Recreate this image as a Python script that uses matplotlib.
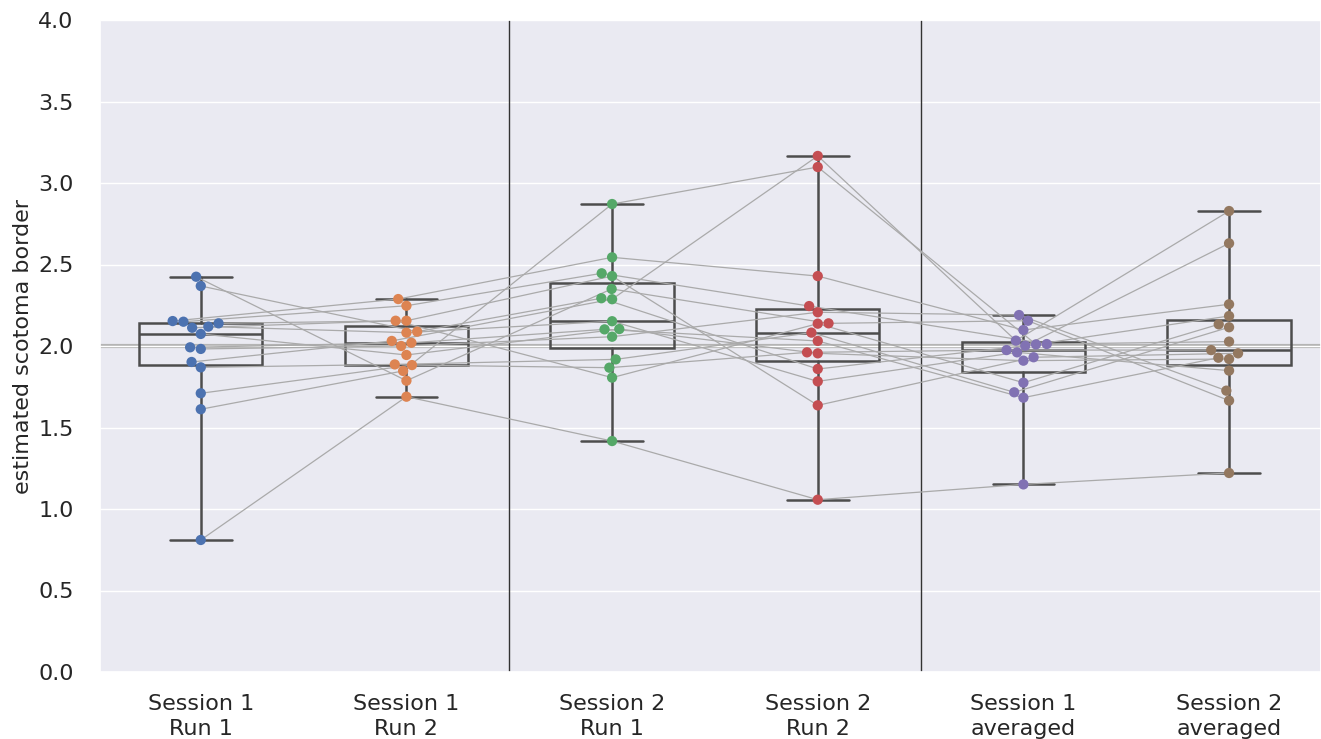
import matplotlib
matplotlib.use("Agg")
import matplotlib.pyplot as plt
import pandas as pd
import seaborn as sns

# condition labels (x axis)
conditions = ["Session 1\nRun 1", "Session 1\nRun 2", "Session 2\nRun 1",
              "Session 2\nRun 2", "Session 1\naveraged", "Session 2\naveraged"]

# estimated scotoma border per subject, same subject order in every list
s1_run1 = [2.425, 2.368, 2.153, 2.149, 2.139, 2.119, 2.112, 2.074,
           1.992, 1.982, 1.902, 1.869, 1.710, 1.612, 0.810]
s1_run2 = [1.787, 2.088, 2.288, 2.247, 2.155, 2.082, 2.155, 1.945,
           2.020, 2.000, 2.031, 1.887, 1.883, 1.847, 1.689]
s2_run1 = [2.350, 2.293, 2.544, 2.446, 2.429, 2.152, 1.806, 2.104,
           2.102, 2.057, 2.287, 1.918, 1.867, 2.871, 1.417]
s2_run2 = [2.139, 1.859, 2.429, 2.245, 1.636, 1.783, 2.137, 1.955,
           2.031, 2.207, 3.166, 2.082, 1.961, 3.098, 1.057]
s1_avg = [2.155, 2.002, 2.098, 2.012, 1.931, 1.961, 1.775, 1.910,
          1.683, 2.190, 2.033, 1.716, 1.975, 2.010, 1.151]
s2_avg = [1.665, 2.630, 2.256, 2.027, 1.955, 1.849, 2.133, 1.920,
          1.928, 1.726, 2.828, 2.115, 1.975, 2.184, 1.221]

all_values = [s1_run1, s1_run2, s2_run1, s2_run2, s1_avg, s2_avg]
n_subj = len(s1_run1)

rows = []
for cond, vals in zip(conditions, all_values):
    for subj, v in enumerate(vals):
        rows.append({"condition": cond, "subject": subj, "border": v})
df = pd.DataFrame(rows)

sns.set_theme(style="darkgrid")
plt.rcParams["font.size"] = 16
plt.rcParams["xtick.labelsize"] = 16
plt.rcParams["ytick.labelsize"] = 16
plt.rcParams["axes.labelsize"] = 16
plt.rcParams["xtick.major.pad"] = 9.5
plt.rcParams["ytick.major.pad"] = 13

fig = plt.figure(figsize=(13.21, 7.39), dpi=100)
ax = fig.add_axes([100 / 1321, 67 / 739, 1221 / 1321, 652 / 739])

# reference line at 2.0 (sits under the white grid line)
ax.axhline(2.0, color="#b4b4b4", lw=3, zorder=0.4)

# swarm of individual subjects
sns.swarmplot(data=df, x="condition", y="border", hue="condition",
              palette="deep", size=7.4, legend=False, ax=ax, zorder=4)

# boxes without fill, whiskers to min / max
box_col = "#4d4d4d"
ax.boxplot(all_values, positions=range(len(conditions)), widths=0.6,
           whis=(0, 100), showfliers=False, patch_artist=True, zorder=2,
           boxprops=dict(facecolor="none", edgecolor=box_col, linewidth=1.8),
           whiskerprops=dict(color=box_col, linewidth=1.8),
           capprops=dict(color=box_col, linewidth=1.8),
           medianprops=dict(color=box_col, linewidth=1.8))

# separators between run blocks
ax.axvline(1.5, color="#333333", lw=1.0, zorder=1)
ax.axvline(3.5, color="#333333", lw=1.0, zorder=1)

ax.set_xlim(-0.49, 5.447)
ax.set_ylim(0, 4)
ax.set_yticks([0, 0.5, 1, 1.5, 2, 2.5, 3, 3.5, 4])
ax.set_yticklabels([f"{t:.1f}" for t in ax.get_yticks()])
ax.set_xticks(range(len(conditions)))
ax.set_xticklabels(conditions)
for lab in ax.get_xticklabels():
    lab.set_linespacing(1.35)
ax.grid(False, axis="x")
ax.set_xlabel("")
ax.set_ylabel("estimated scotoma border", labelpad=3.5)

# connect each subject across conditions at the swarm positions
fig.canvas.draw()
offsets = [c.get_offsets() for c in ax.collections[:len(conditions)]]
for s in range(n_subj):
    xs = [off[s, 0] for off in offsets]
    ys = [off[s, 1] for off in offsets]
    ax.plot(xs, ys, color="#aaaaaa", lw=0.9, zorder=3)

fig.savefig("out.png", dpi=100)
